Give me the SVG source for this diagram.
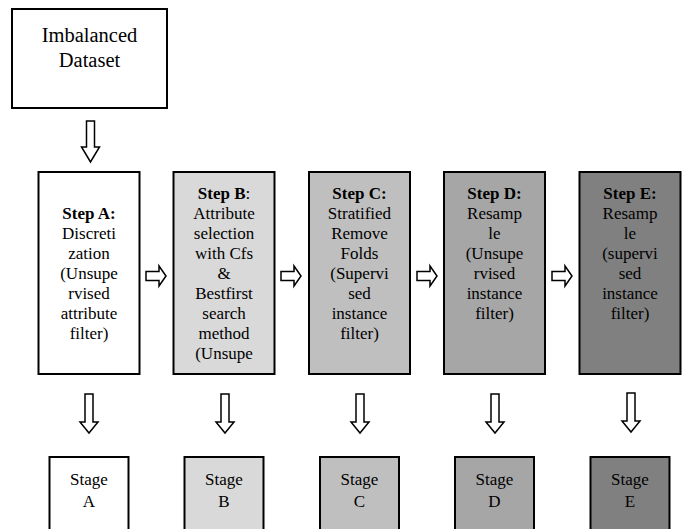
<svg xmlns="http://www.w3.org/2000/svg" width="682" height="529" viewBox="0 0 682 529" font-family="'Liberation Serif', 'Times New Roman', Times, serif">
<style>
.box{stroke:#000;stroke-width:2}
.arr{fill:#fff;stroke:#000;stroke-width:1.5;stroke-linejoin:miter}
text{font-family:'Liberation Serif','Times New Roman',Times,serif;fill:#000;text-anchor:middle}
.t{font-size:17px}
.b{font-weight:bold}
.big{font-size:20.5px}
.w{fill:#fff}.g1{fill:#d9d9d9}.g2{fill:#bfbfbf}.g3{fill:#a6a6a6}.g4{fill:#808080}
</style>
<defs>
<path id="down" d="M-4,0 H4 V26 H9 L0,41 L-9,26 H-4 Z"/>
<path id="downs" d="M-4,0 H4 V28 H9 L0,39 L-9,28 H-4 Z"/>
<path id="right" d="M0,-4.5 H13 V-10 L20,0 L13,10 V4.5 H0 Z"/>
</defs>
<g id="dataset">
<rect class="box w" x="12" y="9" width="155" height="99"/>
<text class="big" x="89.5" y="42">Imbalanced</text>
<text class="big" x="89.5" y="67">Dataset</text>
</g>
<g id="stepA">
<rect class="box w" x="38.5" y="172" width="101" height="202"/>
<text class="t" x="89"><tspan class="b" x="89" y="219">Step A:</tspan><tspan x="89" y="239">Discreti</tspan><tspan x="89" y="259">zation</tspan><tspan x="89" y="279">(Unsupe</tspan><tspan x="89" y="299">rvised</tspan><tspan x="89" y="319">attribute</tspan><tspan x="89" y="339">filter)</tspan></text>
</g>
<g id="stepB">
<rect class="box g1" x="173.5" y="172" width="101" height="202"/>
<text class="t" x="224"><tspan x="224" y="199"><tspan class="b">Step B</tspan>:</tspan><tspan x="224" y="219">Attribute</tspan><tspan x="224" y="239">selection</tspan><tspan x="224" y="259">with Cfs</tspan><tspan x="224" y="279">&amp;</tspan><tspan x="224" y="299">Bestfirst</tspan><tspan x="224" y="319">search</tspan><tspan x="224" y="339">method</tspan><tspan x="224" y="359">(Unsupe</tspan></text>
</g>
<g id="stepC">
<rect class="box g2" x="309" y="172" width="101" height="202"/>
<text class="t" x="359.5"><tspan class="b" x="359.5" y="199">Step C:</tspan><tspan x="359.5" y="219">Stratified</tspan><tspan x="359.5" y="239">Remove</tspan><tspan x="359.5" y="259">Folds</tspan><tspan x="359.5" y="279">(Supervi</tspan><tspan x="359.5" y="299">sed</tspan><tspan x="359.5" y="319">instance</tspan><tspan x="359.5" y="339">filter)</tspan></text>
</g>
<g id="stepD">
<rect class="box g3" x="444" y="172" width="101" height="202"/>
<text class="t" x="494.5"><tspan class="b" x="494.5" y="199">Step D:</tspan><tspan x="494.5" y="219">Resamp</tspan><tspan x="494.5" y="239">le</tspan><tspan x="494.5" y="259">(Unsupe</tspan><tspan x="494.5" y="279">rvised</tspan><tspan x="494.5" y="299">instance</tspan><tspan x="494.5" y="319">filter)</tspan></text>
</g>
<g id="stepE">
<rect class="box g4" x="579.5" y="172" width="101" height="202"/>
<text class="t" x="630"><tspan class="b" x="630" y="199">Step E:</tspan><tspan x="630" y="219">Resamp</tspan><tspan x="630" y="239">le</tspan><tspan x="630" y="259">(supervi</tspan><tspan x="630" y="279">sed</tspan><tspan x="630" y="299">instance</tspan><tspan x="630" y="319">filter)</tspan></text>
</g>
<g id="stageA">
<rect class="box w" x="49.5" y="457" width="79" height="80"/>
<text class="t"><tspan x="89" y="485">Stage</tspan><tspan x="89" y="507">A</tspan></text>
</g>
<g id="stageB">
<rect class="box g1" x="184.5" y="457" width="79" height="80"/>
<text class="t"><tspan x="224" y="485">Stage</tspan><tspan x="224" y="507">B</tspan></text>
</g>
<g id="stageC">
<rect class="box g2" x="320" y="457" width="79" height="80"/>
<text class="t"><tspan x="359.5" y="485">Stage</tspan><tspan x="359.5" y="507">C</tspan></text>
</g>
<g id="stageD">
<rect class="box g3" x="455" y="457" width="79" height="80"/>
<text class="t"><tspan x="494.5" y="485">Stage</tspan><tspan x="494.5" y="507">D</tspan></text>
</g>
<g id="stageE">
<rect class="box g4" x="590.5" y="457" width="79" height="80"/>
<text class="t"><tspan x="630" y="485">Stage</tspan><tspan x="630" y="507">E</tspan></text>
</g>
<g id="connectors">
<use href="#down" class="arr" x="90.5" y="121"/>
<use href="#right" class="arr" x="146" y="276"/>
<use href="#right" class="arr" x="281" y="276"/>
<use href="#right" class="arr" x="417" y="276"/>
<use href="#right" class="arr" x="552" y="276"/>
<use href="#downs" class="arr" x="89" y="394"/>
<use href="#downs" class="arr" x="225" y="394"/>
<use href="#downs" class="arr" x="360" y="394"/>
<use href="#downs" class="arr" x="495" y="394"/>
<use href="#downs" class="arr" x="631" y="393"/>
</g>
</svg>
